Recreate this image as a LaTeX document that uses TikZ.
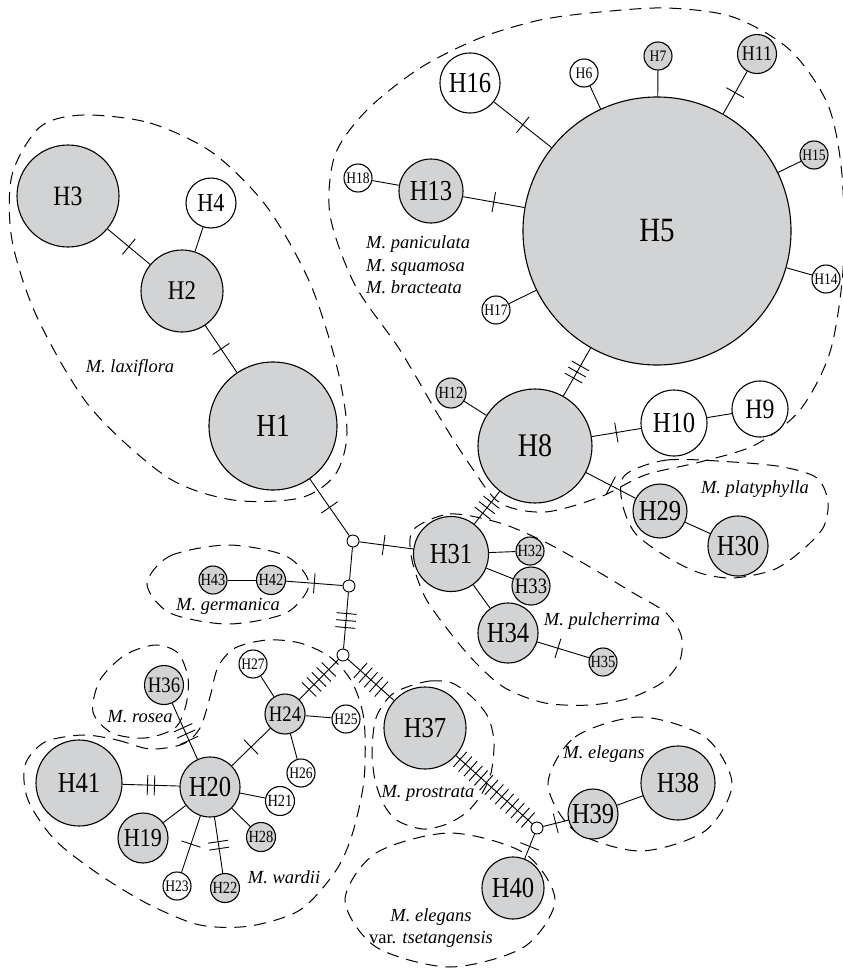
\documentclass[tikz,border=0pt]{standalone}
\usepackage{fontspec}
\setmainfont{Liberation Serif}
\newfontfamily\hapfont{Liberation Serif}[FakeStretch=0.85]
\usetikzlibrary{decorations.markings}
\definecolor{hapcinza}{RGB}{209,211,212}

\begin{document}
\begin{tikzpicture}[x=1pt,y=-1pt]

    % Estilos: haplotipos, vetores medianos, grupos e rotulos
    \tikzstyle{hap} = [draw, circle, inner sep=0pt, line width=1.1pt];
    \tikzstyle{mv} = [draw, circle, fill=white, inner sep=0pt, minimum size=12pt, line width=.9pt];
    \tikzstyle{liga} = [line width=.9pt];
    \tikzstyle{grupo} = [dash pattern=on 12pt off 8pt, line width=1pt];
    \tikzstyle{especie} = [inner sep=0pt, font=\fontsize{18.5}{22.5}\selectfont\itshape];

    % Mutacoes: #1 tracos na posicao #2 da ligacao
    \tikzset{mut/.style 2 args={liga, postaction={decorate, decoration={markings,
      mark=at position #2 with {\foreach \k in {1,...,#1}
        {\draw[line width=.9pt] ({(\k-(#1+1)/2)*7pt},-10pt) -- ++(0pt,20pt);}}}}}}

    \useasboundingbox (0,0) rectangle (843,972);

    % Contornos tracejados das especies
    \draw[grupo] plot[smooth cycle] coordinates {(83,115) (150,123) (213,153) (267,207)
      (310,283) (337,367) (347,433) (335,475) (300,498) (233,500) (167,477) (90,407)
      (37,317) (12,240) (12,175) (40,127)};
    \draw[grupo] plot[smooth cycle] coordinates {(367,110) (420,68) (480,38) (540,20)
      (600,12) (667,8) (733,17) (790,50) (828,105) (842,175) (843,270) (830,352)
      (800,410) (755,445) (700,462) (645,475) (600,497) (545,512) (500,503) (470,465)
      (440,418) (400,350) (355,285) (330,215) (335,155)};
    \draw[grupo] plot[smooth cycle] coordinates {(625,475) (667,460) (733,462) (783,467)
      (817,478) (828,502) (823,528) (800,552) (773,570) (733,578) (700,573) (667,557)
      (635,533) (622,502)};
    \draw[grupo] plot[smooth cycle] coordinates {(413,530) (450,514) (500,523) (545,542)
      (590,567) (635,594) (665,612) (681,635) (680,660) (663,682) (630,698) (590,705)
      (545,703) (505,688) (475,662) (448,630) (425,597) (412,560)};
    \draw[grupo] plot[smooth cycle] coordinates {(147,584) (170,556) (228,545) (286,556)
      (309,584) (286,613) (228,624) (170,613)};
    \draw[grupo] plot[smooth cycle] coordinates {(93,712) (100,680) (125,655) (155,645)
      (178,653) (188,678) (186,705) (175,728) (145,738) (112,733)};
    \draw[grupo] plot[smooth cycle] coordinates {(83,735) (117,740) (150,749) (183,744)
      (200,728) (210,697) (218,667) (235,648) (267,640) (300,643) (330,657) (352,682)
      (364,720) (364,780) (352,835) (335,872) (300,910) (250,926) (200,925) (150,905)
      (100,875) (55,840) (28,800) (25,765) (45,742)};
    \draw[grupo] plot[smooth cycle] coordinates {(407,687) (430,681) (452,683) (472,697)
      (488,717) (494,742) (491,773) (481,795) (467,812) (447,824) (423,829) (398,821)
      (384,805) (375,780) (372,750) (376,718) (390,696)};
    \draw[grupo] plot[smooth cycle] coordinates {(548,784) (575,737) (640,717) (705,737)
      (732,784) (705,831) (640,851) (575,831)};
    \draw[grupo] plot[smooth cycle] coordinates {(345,900) (376,853) (450,833) (524,853)
      (555,900) (524,947) (450,967) (376,947)};

    % Haplotipos: nome/x/y/diametro/fonte/cor
    \foreach \n/\x/\y/\d/\f/\c in {
      H1/273/426/128/32/hapcinza, H2/182/291/82/27/hapcinza, H3/68/196/102/28/hapcinza,
      H4/211/203/50/26/white, H5/657/231/268/34/hapcinza, H6/584/73/28/16/white,
      H7/658/56/28/16/hapcinza, H8/535/446/114/33/hapcinza, H9/760/409/56/28/white,
      H10/674/423/66/29/white, H11/757/54/39/21/hapcinza, H12/451/393/30/17/hapcinza,
      H13/431/191/64/29/hapcinza, H14/826/279/28/16/white, H15/814/155/28/16/hapcinza,
      H16/470/83/60/29/white, H17/496/310/28/16/white, H18/358/178/28/16/white,
      H19/143/838/50/26/hapcinza, H20/210/787/60/29/hapcinza, H21/280/801/29/17/white,
      H22/225/888/29/17/hapcinza, H23/177/886/28/16/white, H24/285/714/40/22/hapcinza,
      H25/346/719/28/16/white, H26/301/773/28/16/white, H27/253/664/28/16/white,
      H28/261/837/29/17/hapcinza, H29/660/511/54/29/hapcinza, H30/738/546/60/29/hapcinza,
      H31/451/554/75/29/hapcinza, H32/530/551/28/17/hapcinza, H33/531/586/38/22/hapcinza,
      H34/508/633/60/29/hapcinza, H35/603/662/28/17/hapcinza, H36/164/685/39/22/hapcinza,
      H37/425/728/82/29/hapcinza, H38/678/783/74/29/hapcinza, H39/593/814/50/29/hapcinza,
      H40/513/888/62/29/hapcinza, H41/79/783/86/29/hapcinza, H42/271/580/29/17/hapcinza,
      H43/213/580/28/17/hapcinza}
    {
      \node[hap, minimum size=\d pt, fill=\c, font=\hapfont\fontsize{\f}{\f}\selectfont] (\n) at (\x,\y) {\n};
    }

    % Vetores medianos
    \node[mv] (m1) at (353,541) {};
    \node[mv] (m2) at (349,586) {};
    \node[mv] (m3) at (343,655) {};
    \node[mv] (m4) at (537,828) {};

    % Ligacoes sem mutacoes
    \foreach \a/\b in {H2/H4, m1/m2, H42/H43, H8/H12, H10/H9, H29/H30, H31/H32,
      H31/H33, H31/H34, H13/H18, H5/H17, H5/H6, H5/H7, H5/H15, H5/H14, H39/H38,
      H24/H27, H24/H25, H24/H26, H20/H21, H20/H28, H20/H19}
      \draw[liga] (\a) -- (\b);

    % Ligacoes com mutacoes: origem/destino/tracos/posicao
    \foreach \a/\b/\t/\p in {H3/H2/1/.5, H2/H1/1/.5, H1/m1/1/.5, m1/H31/1/.45,
      m2/H42/1/.5, m2/m3/3/.5, m3/H24/5/.5, m3/H37/5/.5, H37/m4/14/.5, m4/H39/1/.5,
      m4/H40/1/.5, H31/H8/3/.5, H8/H5/3/.5, H8/H10/1/.5, H8/H29/1/.5, H34/H35/1/.4,
      H5/H16/1/.5, H5/H13/1/.5, H5/H11/1/.5, H20/H41/2/.5, H20/H36/3/.45,
      H20/H24/1/.5, H20/H23/1/.5, H20/H22/2/.5}
      \draw[mut={\t}{\p}] (\a) -- (\b);

    % Nomes das especies
    \node[especie] (lax) at (130,368) {M. laxiflora};
    \node[especie, align=left, anchor=west] (pan) at (366,265) {M. paniculata\\M. squamosa\\M. bracteata};
    \node[especie] (pla) at (755,489) {M. platyphylla};
    \node[especie] (pul) at (602,621) {M. pulcherrima};
    \node[especie] (ger) at (228,606) {M. germanica};
    \node[especie] (ros) at (140,717) {M. rosea};
    \node[especie] (war) at (284,877) {M. wardii};
    \node[especie] (pro) at (428,793) {M. prostrata};
    \node[especie] (ele) at (604,754) {M. elegans};
    \node[especie, align=center] (tse) at (431,928) {M. elegans\\\upshape var. \itshape tsetangensis};

\end{tikzpicture}
\end{document}
